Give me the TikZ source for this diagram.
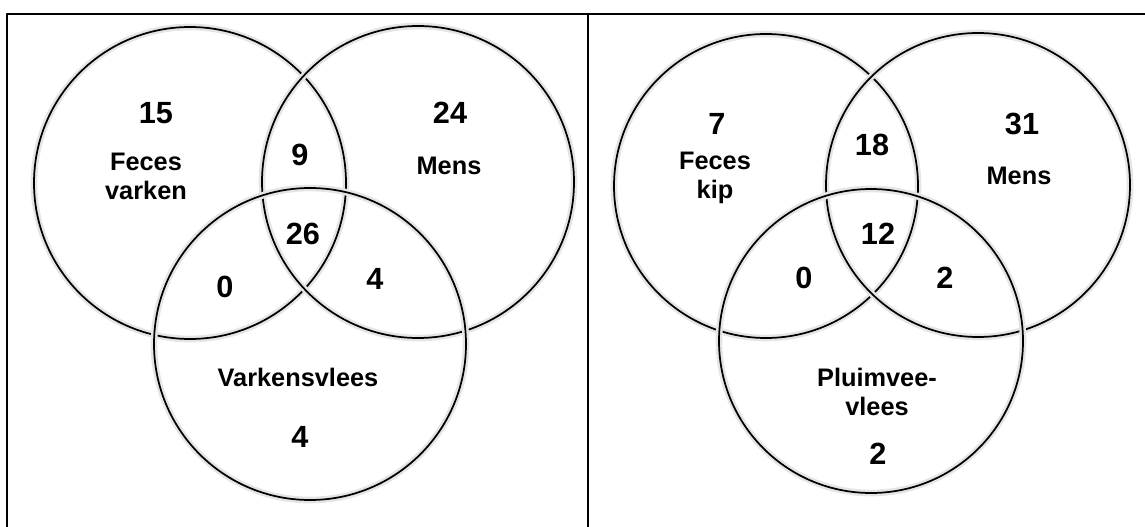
\documentclass[tikz,border=0pt]{standalone}
\usepackage{fontspec}
\setmainfont{Liberation Sans}
\begin{document}
\begin{tikzpicture}[x=0.75pt, y=-0.75pt, line join=round,
    set/.style={circle, draw=black, line width=1.3pt, inner sep=0pt,
        preaction={draw=black!10, line width=5pt}},
    num/.style={font=\fontsize{23}{27}\selectfont\bfseries},
    lab/.style={font=\fontsize{19}{21.75}\selectfont\bfseries, align=center}]
    \useasboundingbox (0,0) rectangle (1145,527);

    % 1. Randen van de tabel
    \draw[line width=1.5pt] (7,527) -- (7,14) -- (1145,14);
    \draw[line width=1.5pt] (588,14) -- (588,527);

    % 2. Links: varken
    \node[set, minimum size=234pt] (fecesV) at (190,183) {};
    \node[set, minimum size=234pt] (mensV) at (418,182) {};
    \node[set, minimum size=234pt] (vleesV) at (310,344) {};

    \node[num] (nV1) at (156,113) {15};
    \node[lab] (lFecesV) at (146,176) {Feces\\varken};
    \node[num] (nV2) at (300,155) {9};
    \node[num] (nV3) at (450,113) {24};
    \node[lab] (lMensV) at (449,166) {Mens};
    \node[num] (nV4) at (303,234) {26};
    \node[num] (nV5) at (225,287) {0};
    \node[num] (nV6) at (375,279) {4};
    \node[lab] (lVleesV) at (298,377) {Varkensvlees};
    \node[num] (nV7) at (300,437) {4};

    % 3. Rechts: kip
    \node[set, minimum size=228pt] (fecesK) at (766,186) {};
    \node[set, minimum size=228pt] (mensK) at (978,185) {};
    \node[set, minimum size=228pt] (vleesK) at (871,341) {};

    \node[num] (nK1) at (717,124) {7};
    \node[lab] (lFecesK) at (715,178) {Feces\\kip};
    \node[num] (nK2) at (872,145) {18};
    \node[num] (nK3) at (1022,124) {31};
    \node[lab] (lMensK) at (1019,176) {Mens};
    \node[num] (nK4) at (878,234) {12};
    \node[num] (nK5) at (804,278) {0};
    \node[num] (nK6) at (945,278) {2};
    \node[lab] (lVleesK) at (877,392) {Pluimvee-\\vlees};
    \node[num] (nK7) at (878,454) {2};
\end{tikzpicture}
\end{document}
